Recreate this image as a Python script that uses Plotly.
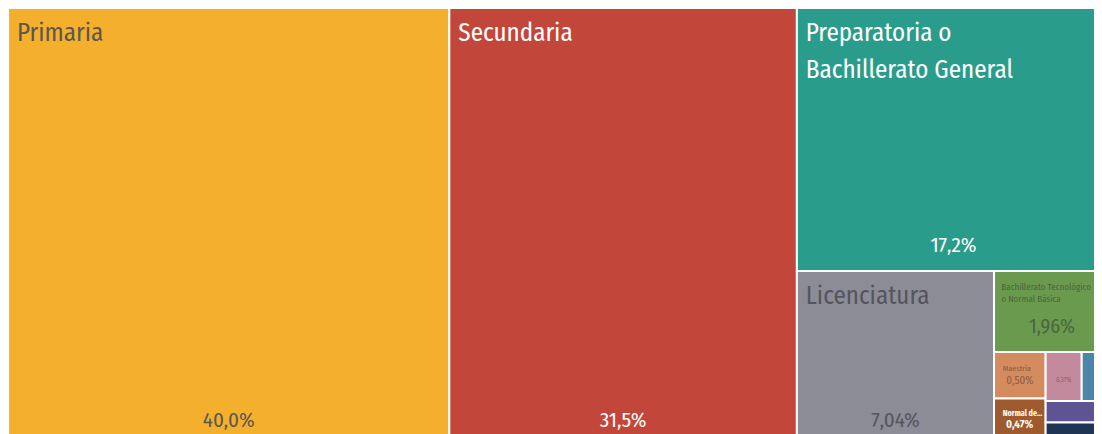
import plotly.graph_objects as go

# ---- data ----
labels = [
    "Primaria", "Secundaria", "Preparatoria o Bachillerato General", "Licenciatura",
    "Bachillerato Tecnológico o Normal Básica", "Maestría", "Normal de Licenciatura",
    "Técnica con secundaria", "Técnica con preparatoria", "Técnica con primaria",
    "Especialidad", "Doctorado", "Preescolar",
]
values = [40.0, 31.5, 17.2, 7.04, 1.96, 0.50, 0.47, 0.37, 0.29, 0.25, 0.23, 0.04, 0.03]
# text lines shown in each tile (empty = no label shown)
label_lines = [
    ["Primaria"], ["Secundaria"], ["Preparatoria o", "Bachillerato General"], ["Licenciatura"],
    ["Bachillerato Tecnológico", "o Normal Básica"], ["Maestría"], ["<b>Normal de...</b>"],
    [], [], [], [], [], [],
]
show_pct = [True, True, True, True, True, True, True, True, False, False, False, False, False]
bold_pct = [False, False, False, False, False, False, True, False, False, False, False, False, False]

# ---- style ----
colors = ["#F4AF2D", "#C3463A", "#2A9C8C", "#8C8C96", "#6A9A4E", "#D48B5E", "#9E5A2C",
          "#C38A9E", "#4A86A8", "#5E5393", "#1E3556", "#6C2A45", "#D9B14A"]
text_colors = ["#5c5850", "#ffffff", "#ffffff", "#55555d", "#4b6640", "#8a5c40", "#ffffff",
               "#86606c", "#ffffff", "#ffffff", "#ffffff", "#ffffff", "#ffffff"]
label_size = [25, 25, 25, 25, 9, 8, 8, 6, 6, 6, 6, 6, 6]
label_line = [14, 14, 14, 14, 9.2, 9.2, 8, 6, 6, 6, 6, 6, 6]      # line pitch font size
label_top = [13, 13, 13, 13, 4.8, 4.8, 4.4, 3, 3, 3, 3, 3, 3]      # top spacer size
label_indent = [1, 1, 1, 1, 2, 3, 3, 0, 0, 0, 0, 0, 0]
pct_size = [21, 21, 21, 21, 20, 11, 11, 6.5, 6, 6, 6, 6, 6]
pct_bottom = [8, 8, 10, 8, 10, 7.3, 7.3, 10, 4, 4, 4, 4, 4]        # bottom spacer size

font_family = "Fira Sans Condensed, Roboto, sans-serif"
PHI = (1 + 5 ** 0.5) / 2


def fmt(v):
    s = f"{v:.1f}" if v >= 10 else f"{v:.2f}"
    return s.replace(".", ",") + "%"


label_text = []
for i, lines in enumerate(label_lines):
    if not lines:
        label_text.append("")
        continue
    pad = "&nbsp;" * label_indent[i]
    joiner = "<br>&nbsp;<br>" if label_size[i] >= 20 else "<br>"
    body = joiner.join(f"<span style='font-size:{label_size[i]}px'>{pad}{ln}</span>" for ln in lines)
    label_text.append(f"<span style='font-size:{label_top[i]}px'>&nbsp;</span><br>" + body)

pct_text = []
for i, v in enumerate(values):
    if not show_pct[i]:
        pct_text.append("")
        continue
    t = fmt(v)
    if bold_pct[i]:
        t = "<b>" + t + "</b>"
    pct_text.append(f"<span style='font-size:{pct_size[i]}px'>{t}</span><br>"
                    f"<span style='font-size:{pct_bottom[i]}px'>&nbsp;</span>")

parents = [""] * len(labels)
tiling = dict(packing="squarify", squarifyratio=PHI, pad=0)

fig = go.Figure()
fig.add_trace(go.Treemap(
    labels=labels, parents=parents, values=values,
    branchvalues="total", sort=True,
    marker=dict(colors=colors, line=dict(color="white", width=2),
                pad=dict(t=0, l=0, r=0, b=0)),
    text=label_text, texttemplate="%{text}", textposition="top left",
    textfont=dict(family=font_family, size=label_line, color=text_colors),
    tiling=tiling,
    pathbar=dict(visible=False), root=dict(color="rgba(0,0,0,0)"),
    hoverinfo="label+value",
))
fig.add_trace(go.Treemap(
    labels=labels, parents=parents, values=values,
    branchvalues="total", sort=True,
    marker=dict(colors=["rgba(0,0,0,0)"] * len(labels), line=dict(width=0),
                pad=dict(t=0, l=0, r=0, b=0)),
    text=pct_text, texttemplate="%{text}", textposition="bottom center",
    textfont=dict(family=font_family, size=pct_bottom, color=text_colors),
    tiling=tiling,
    pathbar=dict(visible=False), root=dict(color="rgba(0,0,0,0)"),
    hoverinfo="skip",
))
fig.update_layout(
    width=1102, height=434,
    margin=dict(l=0, r=0, t=0, b=0),
    paper_bgcolor="white",
    showlegend=False,
)
fig.write_html("out.html")
